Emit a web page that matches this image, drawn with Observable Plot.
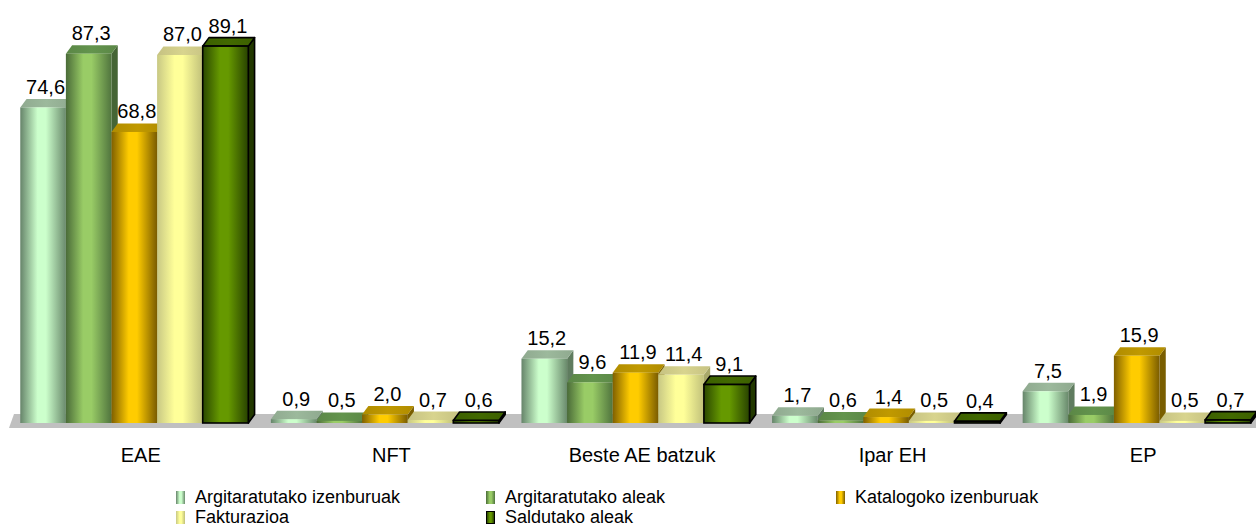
<!DOCTYPE html>
<html><head><meta charset="utf-8">
<script src="https://cdn.jsdelivr.net/npm/d3@7"></script>
<script src="https://cdn.jsdelivr.net/npm/@observablehq/plot@0.6"></script>
<style>
body{margin:0;background:#fff;font-family:"Liberation Sans",Arial,sans-serif;}
#wrap{position:relative;width:1256px;height:532px;overflow:hidden;}
#legend{position:absolute;left:0;top:480px;width:1256px;height:52px;}
.li{position:absolute;font-size:18px;color:#000;line-height:20px;white-space:nowrap;}
.sw{display:inline-block;width:9px;height:13px;margin-right:10px;vertical-align:-1px;box-sizing:border-box;}
</style></head><body><div id="wrap"><div id="chart"></div><div id="legend"></div></div>
<script>
// ---- data ----
const categories = ["EAE", "NFT", "Beste AE batzuk", "Ipar EH", "EP"];
const seriesNames = ["Argitaratutako izenburuak", "Argitaratutako aleak", "Katalogoko izenburuak", "Fakturazioa", "Saldutako aleak"];
const argitaratutakoIzenburuak = [74.6, 0.9, 15.2, 1.7, 7.5];
const argitaratutakoAleak = [87.3, 0.5, 9.6, 0.6, 1.9];
const katalogokoIzenburuak = [68.8, 2.0, 11.9, 1.4, 15.9];
const fakturazioa = [87.0, 0.7, 11.4, 0.5, 0.5];
const saldutakoAleak = [89.1, 0.6, 9.1, 0.4, 0.7];
const seriesValues = [argitaratutakoIzenburuak, argitaratutakoAleak, katalogokoIzenburuak, fakturazioa, saldutakoAleak];

// ---- style ----
const palette = [
  {l: "#66846a", m: "#ccffcc", r: "#6a8a6c", top: "#8fa98f", side: "#5f7c5f", stroke: "none"},
  {l: "#4a6b38", m: "#99cc66", r: "#50743e", top: "#5b8746", side: "#456535", stroke: "none"},
  {l: "#806000", m: "#ffcc00", r: "#7a5c00", top: "#b08c00", side: "#7a5e00", stroke: "none"},
  {l: "#c8c884", m: "#ffff99", r: "#c0c07a", top: "#c6c282", side: "#a8a86a", stroke: "none"},
  {l: "#2a4700", m: "#669900", r: "#284200", top: "#3c6000", side: "#223800", stroke: "#000"}
];
const barPad = 0.033, barW = 0.182;      // in category units
const depthX = 0.025, depthY = 2.0;       // 3D depth offset (x units, y units)
const fmt = v => v.toFixed(1).replace(".", ",");

const rows = [];
seriesValues.forEach((vals, si) => vals.forEach((v, ci) => {
  const x1 = ci + barPad + si * barW, x2 = x1 + barW;
  rows.push({si, ci, v, x1, x2, id: si + "-" + ci});
}));

const marks = [];
// floor
const floorPts = [
  {y: -1.2, a: -0.012, b: 5.2},
  {y: 2.1, a: 0.008, b: 5.2}
];
marks.push(Plot.areaX(floorPts, {y: "y", x1: "a", x2: "b", fill: "#c0c0c0"}));

palette.forEach((p, si) => {
  const R = rows.filter(d => d.si === si);
  const sideData = R.flatMap(d => [
    {id: d.id, x: d.x2, y1: 0, y2: d.v},
    {id: d.id, x: d.x2 + depthX, y1: depthY, y2: d.v + depthY}
  ]);
  const topData = R.flatMap(d => [
    {id: d.id, y: d.v, a: d.x1, b: d.x2},
    {id: d.id, y: d.v + depthY, a: d.x1 + depthX, b: d.x2 + depthX}
  ]);
  const sw = p.stroke === "none" ? 0 : 1.6;
  marks.push(Plot.areaY(sideData, {x: "x", y1: "y1", y2: "y2", z: "id", fill: p.side, stroke: p.stroke, strokeWidth: sw, strokeLinejoin: "round"}));
  marks.push(Plot.areaX(topData, {y: "y", x1: "a", x2: "b", z: "id", fill: `url(#gt${si})`, stroke: p.stroke, strokeWidth: sw, strokeLinejoin: "round"}));
  marks.push(Plot.rectY(R, {x1: "x1", x2: "x2", y1: 0, y2: "v", fill: `url(#gf${si})`, stroke: p.stroke, strokeWidth: sw}));
});

marks.push(Plot.text(rows, {
  x: d => (d.x1 + d.x2) / 2, y: "v", text: d => fmt(d.v),
  lineAnchor: "bottom", dy: -14, dx: 2, fontSize: 20, fill: "#000"
}));

marks.push(Plot.axisX({
  ticks: categories.map((c, i) => i + 0.5),
  tickFormat: d => categories[Math.floor(d)],
  tickSize: 0, tickPadding: 24, fontSize: 20, dx: 3, fill: "#000"
}));

const chart = Plot.plot({
  width: 1256, height: 480,
  marginLeft: 12, marginRight: -9, marginTop: 0, marginBottom: 57,
  x: {domain: [0, 5]},
  y: {domain: [0, 100], axis: null},
  style: {fontFamily: "'Liberation Sans', Arial, sans-serif", fontSize: "20px", background: "transparent", overflow: "visible"},
  marks
});

// gradients
const ns = "http://www.w3.org/2000/svg";
const defs = document.createElementNS(ns, "defs");
palette.forEach((p, si) => {
  const mk = (id, stops) => {
    const g = document.createElementNS(ns, "linearGradient");
    g.setAttribute("id", id);
    g.setAttribute("x1", "0"); g.setAttribute("x2", "1"); g.setAttribute("y1", "0"); g.setAttribute("y2", "0");
    stops.forEach(([o, c]) => {
      const s = document.createElementNS(ns, "stop");
      s.setAttribute("offset", o); s.setAttribute("stop-color", c);
      g.appendChild(s);
    });
    defs.appendChild(g);
  };
  mk("gf" + si, [[0, p.l], [0.38, p.m], [0.56, p.m], [1, p.r]]);
  mk("gt" + si, [[0, p.top], [0.5, d3.color(p.top).brighter(0.25).formatHex()], [1, p.top]]);
});
chart.insertBefore(defs, chart.firstChild);
document.getElementById("chart").appendChild(chart);

// legend
const legendPos = [[176, 7], [486, 7], [836, 7], [176, 27], [486, 27]];
const leg = document.getElementById("legend");
seriesNames.forEach((n, si) => {
  const p = palette[si];
  const item = document.createElement("div");
  item.className = "li";
  item.style.left = legendPos[si][0] + "px";
  item.style.top = legendPos[si][1] + "px";
  const s = document.createElement("span");
  s.className = "sw";
  s.style.background = `linear-gradient(to right, ${p.l}, ${p.m} 40%, ${p.m} 60%, ${p.r})`;
  if (p.stroke !== "none") s.style.border = "1.5px solid #000";
  item.appendChild(s);
  item.appendChild(document.createTextNode(n));
  leg.appendChild(item);
});
</script></body></html>
